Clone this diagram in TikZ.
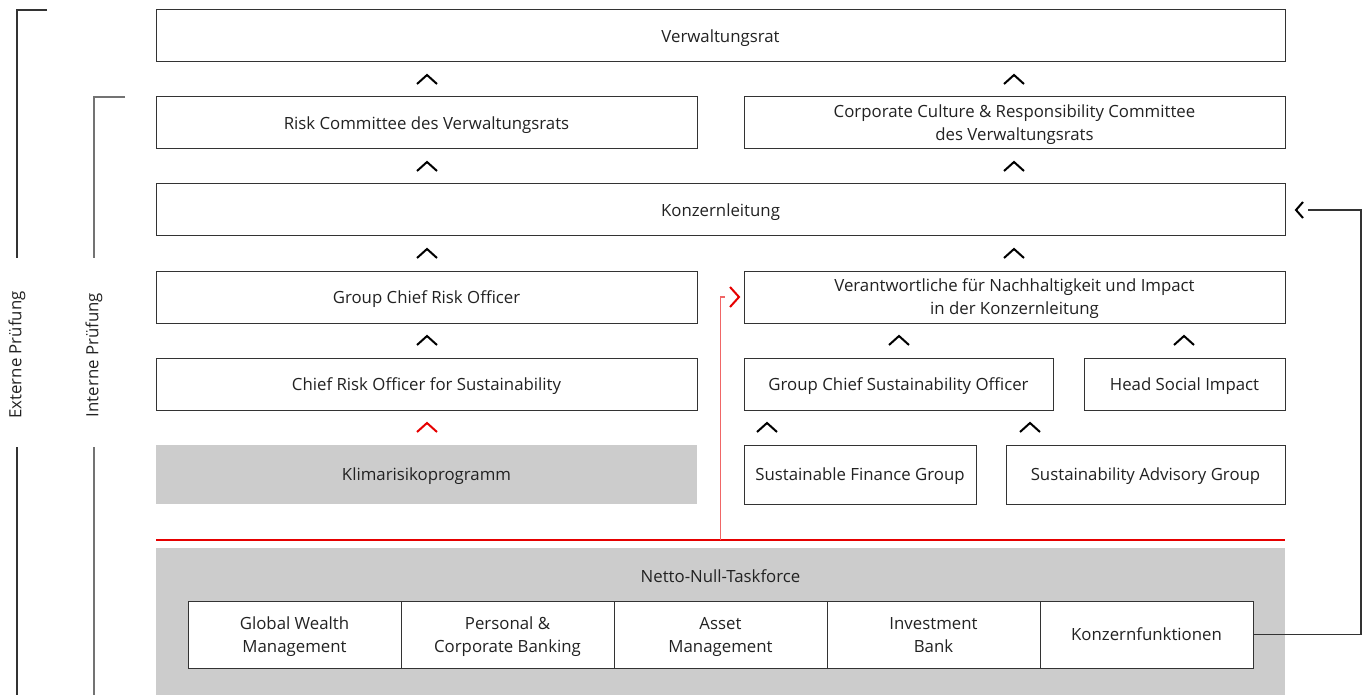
\documentclass[tikz,border=0pt]{standalone}
\usepackage{fontspec}
\setmainfont{Open Sans}
\usetikzlibrary{calc}
\definecolor{boxline}{HTML}{333333}
\definecolor{greyfill}{HTML}{CCCCCC}
\definecolor{ubsred}{HTML}{E60000}
\definecolor{txt}{HTML}{222222}
\newcommand\diafont{\fontsize{16.8}{23}\selectfont}
\tikzset{
  box/.style={draw=boxline, line width=1pt, fill=white, inner sep=0pt, align=center, text=txt, font=\diafont, text depth=0pt},
  greybox/.style={fill=greyfill, draw=none, inner sep=0pt, align=center, text=txt, font=\diafont, text depth=0pt},
  chev/.style={line width=2pt, draw=black, line cap=butt, line join=miter},
  redchev/.style={chev, draw=ubsred},
  bracket/.style={line width=1.2pt},
  sidelabel/.style={rotate=90, text=txt, font=\diafont}
}
\newcommand\chevup[3][chev]{\draw[#1] ({#2-10},{#3+4.5}) -- ({#2},{#3-4.5}) -- ({#2+10},{#3+4.5});}
\begin{document}
\begin{tikzpicture}[x=1pt,y=-1pt]
\useasboundingbox (0,0) rectangle (1368,695);
% brackets
\coordinate (ext1) at (47,10);
\coordinate (ext2) at (17,10);
\coordinate (ext3) at (17,258);
\coordinate (ext4) at (17,447);
\coordinate (ext5) at (17,695);
\draw[bracket, draw=boxline] (ext1) -- (ext2) -- (ext3);
\draw[bracket, draw=boxline] (ext4) -- (ext5);
\node[sidelabel] (extlabel) at (17,355) {Externe Prüfung};
\coordinate (int1) at (125,97);
\coordinate (int2) at (94,97);
\coordinate (int3) at (94,258);
\coordinate (int4) at (94,447);
\coordinate (int5) at (94,695);
\draw[bracket, draw=black!55] (int1) -- (int2) -- (int3);
\draw[bracket, draw=black!55] (int4) -- (int5);
\node[sidelabel] (intlabel) at (94,355) {Interne Prüfung};

% boxes
\node[box, minimum width=1129pt, minimum height=52pt] (vr) at (720.5,36) {Verwaltungsrat};
\node[box, minimum width=541pt, minimum height=52pt] (rc) at (426.5,123) {Risk Committee des Verwaltungsrats};
\node[box, minimum width=541pt, minimum height=52pt] (cc) at (1014.5,123) {Corporate Culture \& Responsibility Committee\\des Verwaltungsrats};
\node[box, minimum width=1129pt, minimum height=52pt] (kl) at (720.5,210) {Konzernleitung};
\node[box, minimum width=541pt, minimum height=52pt] (gcro) at (426.5,297) {Group Chief Risk Officer};
\node[box, minimum width=541pt, minimum height=52pt] (vna) at (1014.5,297) {Verantwortliche für Nachhaltigkeit und Impact\\in der Konzernleitung};
\node[box, minimum width=541pt, minimum height=52pt] (cros) at (426.5,384) {Chief Risk Officer for Sustainability};
\node[box, minimum width=309pt, minimum height=52pt] (gcso) at (898.5,384) {Group Chief Sustainability Officer};
\node[box, minimum width=201pt, minimum height=52pt] (hsi) at (1184.5,384) {Head Social Impact};
\node[greybox, minimum width=541pt, minimum height=59pt] (klima) at (426.5,474.5) {Klimarisikoprogramm};
\node[box, minimum width=232pt, minimum height=59pt] (sfg) at (860,474.5) {Sustainable Finance Group};
\node[box, minimum width=279pt, minimum height=59pt] (sag) at (1145.5,474.5) {Sustainability Advisory Group};

% Netto-Null-Taskforce
\node[greybox, minimum width=1129pt, minimum height=147pt] (netto) at (720.5,621.5) {};
\node[text=txt, font=\diafont, text depth=0pt] (nettotitle) at (720.5,576) {Netto-Null-Taskforce};
\node[box, minimum width=213pt, minimum height=67pt] (gwm) at (294.5,634.5) {Global Wealth\\Management};
\node[box, minimum width=213pt, minimum height=67pt] (pcb) at (507.5,634.5) {Personal \&\\Corporate Banking};
\node[box, minimum width=213pt, minimum height=67pt] (am) at (720.5,634.5) {Asset\\Management};
\node[box, minimum width=213pt, minimum height=67pt] (ib) at (933.5,634.5) {Investment\\Bank};
\node[box, minimum width=213pt, minimum height=67pt] (kf) at (1146.5,634.5) {Konzernfunktionen};

% chevrons
\chevup{427}{79.5}
\chevup{1014}{79.5}
\chevup{427}{166.5}
\chevup{1014}{166.5}
\chevup{427}{253.5}
\chevup{1014}{253.5}
\chevup{427}{340.5}
\chevup{899}{340.5}
\chevup{1184}{340.5}
\chevup[redchev]{427}{427.5}
\chevup{767}{427.5}
\chevup{1030}{427.5}

% red connector
\coordinate (redL) at (156,540);
\coordinate (redR) at (1285,540);
\draw[draw=ubsred, line width=1.3pt] (redL) -- (redR);
\coordinate (redV) at (720.5,540);
\coordinate (redTop) at (720.5,297);
\coordinate (redEnd) at (725,297);
\draw[draw=ubsred!60, line width=1.5pt] (redV) -- (redTop) -- (redEnd);
\draw[redchev] (730,287) -- (739,297) -- (730,307);

% black connector from Konzernfunktionen to Konzernleitung
\coordinate (c1) at (1361,634.5);
\coordinate (c2) at (1361,210);
\coordinate (c3) at (1308,210);
\draw[draw=boxline, line width=1.2pt] (kf.east) -- (c1) -- (c2) -- (c3);
\draw[chev] (1303,202) -- (1296,210) -- (1303,218);
\end{tikzpicture}
\end{document}
